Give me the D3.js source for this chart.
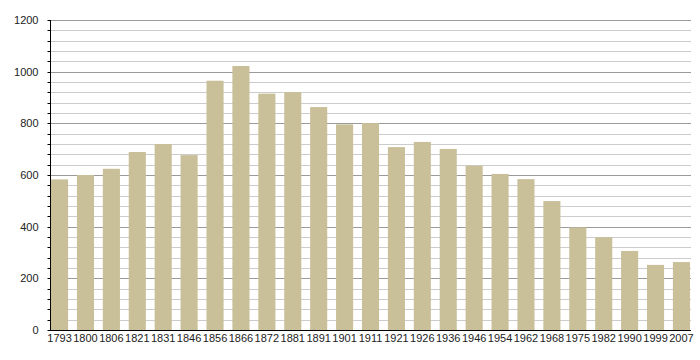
<!DOCTYPE html>
<html>
<head>
<meta charset="utf-8">
<script src="https://cdn.jsdelivr.net/npm/d3@7"></script>
<style>
  body { margin: 0; background: #fff; }
  text { font-family: "Liberation Sans", Arial, sans-serif; font-size: 11px; fill: #222; }
</style>
</head>
<body>
<div id="chart"></div>
<script>
// census years and population
const years = ["1793","1800","1806","1821","1831","1846","1856","1866","1872","1881","1891","1901","1911",
               "1921","1926","1936","1946","1954","1962","1968","1975","1982","1990","1999","2007"];
const population = [583, 600, 624, 689, 720, 677, 965, 1022, 915, 921, 863, 796, 801,
                    708, 728, 701, 636, 604, 584, 499, 397, 359, 306, 252, 263];
const yTicks = [0, 200, 400, 600, 800, 1000, 1200];

const width = 700, height = 360;
const margin = {top: 20, right: 10, bottom: 30, left: 51};

const svg = d3.select("#chart").append("svg")
  .attr("width", width)
  .attr("height", height);

const x = d3.scaleBand()
  .domain(years)
  .range([margin.left, 690])
  .paddingInner(0.34)
  .paddingOuter(0);

const y = d3.scaleLinear()
  .domain([0, 1200])
  .range([height - margin.bottom, margin.top]);

// grid lines, light every 40, darker every 200
const minor = d3.range(0, 1201, 40);
svg.append("g").selectAll("line")
  .data(minor)
  .join("line")
    .attr("x1", 50)
    .attr("x2", 691)
    .attr("y1", d => Math.round(y(d)) + 0.5)
    .attr("y2", d => Math.round(y(d)) + 0.5)
    .attr("stroke", d => d % 200 === 0 ? "#9a9a9a" : "#cccccc")
    .attr("stroke-width", 1);

// bars
svg.append("g").selectAll("rect")
  .data(years)
  .join("rect")
    .attr("x", d => x(d))
    .attr("y", (d, i) => y(population[i]))
    .attr("width", x.bandwidth())
    .attr("height", (d, i) => y(0) - y(population[i]))
    .attr("fill", "#c9c09a");

// y axis
const yAxis = svg.append("g")
  .attr("transform", "translate(50.5,0)");
yAxis.append("line")
  .attr("y1", y(1200))
  .attr("y2", y(0))
  .attr("stroke", "#000");
yAxis.selectAll(".minor")
  .data(minor)
  .join("line")
    .attr("class", "minor")
    .attr("x1", -3)
    .attr("x2", 0)
    .attr("y1", d => Math.round(y(d)) + 0.5)
    .attr("y2", d => Math.round(y(d)) + 0.5)
    .attr("stroke", "#000");
yAxis.selectAll("text")
  .data(yTicks)
  .join("text")
    .attr("x", -12)
    .attr("y", d => y(d))
    .attr("dy", "0.35em")
    .attr("text-anchor", "end")
    .text(d => d);

// x axis
svg.append("line")
  .attr("x1", 50)
  .attr("x2", 691)
  .attr("y1", y(0) + 0.5)
  .attr("y2", y(0) + 0.5)
  .attr("stroke", "#000");
svg.append("g").selectAll("text")
  .data(years)
  .join("text")
    .attr("x", d => x(d) + x.bandwidth() / 2)
    .attr("y", y(0) + 8)
    .attr("dy", "0.35em")
    .attr("text-anchor", "middle")
    .text(d => d);
</script>
</body>
</html>
